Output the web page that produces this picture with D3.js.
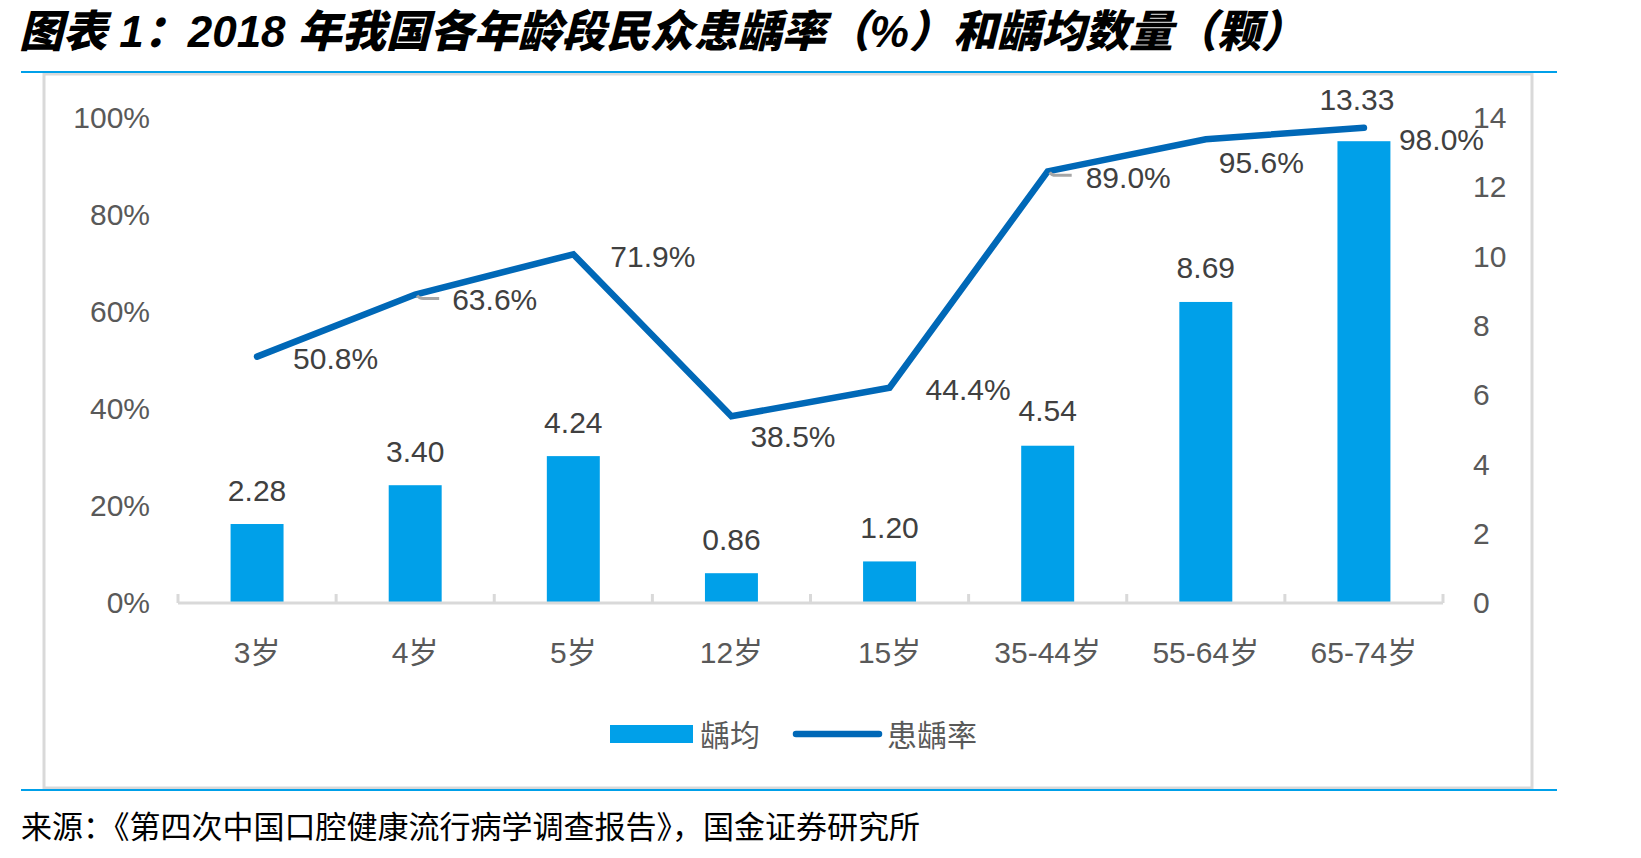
<!DOCTYPE html>
<html>
<head>
<meta charset="utf-8">
<script src="https://cdn.jsdelivr.net/npm/d3@7"></script>
<style>
  body { margin: 0; background: #fff; }
  text { font-family: "Liberation Sans", "Noto Sans CJK SC", sans-serif; }
</style>
</head>
<body>
<div id="chart"></div>
<script>
// data
const ages = ["3岁", "4岁", "5岁", "12岁", "15岁", "35-44岁", "55-64岁", "65-74岁"];
const cariesCount = [2.28, 3.40, 4.24, 0.86, 1.20, 4.54, 8.69, 13.33];   // 龋均 (颗)
const cariesRate = [0.508, 0.636, 0.719, 0.385, 0.444, 0.890, 0.956, 0.980]; // 患龋率
const leftTicks = [0, 0.2, 0.4, 0.6, 0.8, 1.0];
const rightTicks = [0, 2, 4, 6, 8, 10, 12, 14];

// label nudges like the ones dragged by hand in the original
const rateLabelShift = [[36, 2, 0], [37, 5, 1], [37, 2, 0], [19, 20, 0], [36, 2, 0], [38, 6, 1], [13, 23, 0], [35, 12, 0]];
const countLabelLift = [34, 34, 34, 34, 34, 35, 34, 42];

const W = 1641, H = 858;
const barColor = "#00a0e9", lineColor = "#0068b7";
const axisText = "#595959", labelText = "#404040";

const svg = d3.select("#chart").append("svg")
    .attr("width", W).attr("height", H);

// title
svg.append("text")
    .attr("x", 19).attr("y", 31).attr("dy", "0.36em")
    .style("font-size", "44px").style("font-weight", "900").style("font-style", "italic")
    .style("fill", "#000")
    .text("图表 1：2018 年我国各年龄段民众患龋率（%）和龋均数量（颗）");

// frame + blue rules
svg.append("rect")
    .attr("x", 44).attr("y", 74).attr("width", 1488).attr("height", 714)
    .style("fill", "none").style("stroke", "#d9d9d9").style("stroke-width", 3);
[72, 790].forEach(y => {
    svg.append("line").attr("x1", 21).attr("x2", 1557).attr("y1", y).attr("y2", y)
        .style("stroke", barColor).style("stroke-width", 2);
});

// scales
let p = 0.665;
let x = d3.scaleBand().domain(ages).range([178, 1443]).paddingInner(p).paddingOuter(p / 2);
let yL = d3.scaleLinear().domain([0, 1]).range([603, 118]);
let yR = d3.scaleLinear().domain([0, 14]).range([603, 118]);

// axes
let gl = svg.append("g").attr("transform", "translate(150,0)")
    .call(d3.axisLeft(yL).tickValues(leftTicks).tickFormat(d3.format(".0%")).tickSize(0).tickPadding(0));
let gr = svg.append("g").attr("transform", "translate(1473,0)")
    .call(d3.axisRight(yR).tickValues(rightTicks).tickFormat(d3.format("d")).tickSize(0).tickPadding(0));
[gl, gr].forEach(g => {
    g.select(".domain").remove();
    g.selectAll("text").style("font-size", "30px").style("fill", axisText)
        .style("font-family", "'Liberation Sans', sans-serif");
});

// bars
svg.selectAll(".bar")
    .data(cariesCount).enter()
    .append("rect")
    .attr("class", "bar")
    .attr("x", (d, i) => x(ages[i]))
    .attr("width", x.bandwidth())
    .attr("y", d => yR(d))
    .attr("height", d => yR(0) - yR(d))
    .style("fill", barColor);

// category axis
let gx = svg.append("g").attr("transform", "translate(0,603)");
gx.append("line").attr("x1", x.range()[0]).attr("x2", x.range()[1])
    .style("stroke", "#d9d9d9").style("stroke-width", 3);
d3.range(ages.length + 1).forEach(i => {
    let tx = x.range()[0] + i * x.step();
    gx.append("line").attr("x1", tx).attr("x2", tx).attr("y1", 0).attr("y2", -9)
        .style("stroke", "#d9d9d9").style("stroke-width", 3);
});
gx.selectAll(".cat")
    .data(ages).enter()
    .append("text")
    .attr("x", d => x(d) + x.bandwidth() / 2)
    .attr("y", 49).attr("dy", "0.36em")
    .style("text-anchor", "middle").style("font-size", "30px").style("fill", axisText)
    .text(d => d);

// bar labels
svg.selectAll(".countLabel")
    .data(cariesCount).enter()
    .append("text")
    .attr("x", (d, i) => x(ages[i]) + x.bandwidth() / 2 - (i === ages.length - 1 ? 7 : 0))
    .attr("y", (d, i) => yR(d) - countLabelLift[i])
    .attr("dy", "0.35em")
    .style("text-anchor", "middle").style("font-size", "30px").style("fill", labelText)
    .text(d => d3.format(".2f")(d));

// rate line
let cx = i => x(ages[i]) + x.bandwidth() / 2;
let line = d3.line().x((d, i) => cx(i)).y(d => yL(d));
svg.append("path")
    .datum(cariesRate)
    .attr("d", line)
    .style("fill", "none").style("stroke", lineColor).style("stroke-width", 6.5)
    .style("stroke-linecap", "round");

// leader lines
cariesRate.forEach((d, i) => {
    if (!rateLabelShift[i][2]) return;
    svg.append("path")
        .attr("d", `M${cx(i) + 2},${yL(d) + 1} Q${cx(i) + 4},${yL(d) + 4} ${cx(i) + 8},${yL(d) + 4} L${cx(i) + 24},${yL(d) + 4}`)
        .style("fill", "none").style("stroke", "#a6a6a6").style("stroke-width", 3);
});

svg.selectAll(".rateLabel")
    .data(cariesRate).enter()
    .append("text")
    .attr("x", (d, i) => cx(i) + rateLabelShift[i][0])
    .attr("y", (d, i) => yL(d) + rateLabelShift[i][1])
    .attr("dy", "0.35em")
    .style("font-size", "30px").style("fill", labelText)
    .text(d => d3.format(".1%")(d));

// legend
let lg = svg.append("g");
lg.append("rect").attr("x", 610).attr("y", 725).attr("width", 83).attr("height", 18)
    .style("fill", barColor);
lg.append("text").attr("x", 700).attr("y", 735).attr("dy", "0.36em")
    .style("font-size", "30px").style("fill", axisText).text("龋均");
lg.append("line").attr("x1", 796).attr("x2", 879).attr("y1", 734).attr("y2", 734)
    .style("stroke", lineColor).style("stroke-width", 6.5).style("stroke-linecap", "round");
lg.append("text").attr("x", 887).attr("y", 735).attr("dy", "0.36em")
    .style("font-size", "30px").style("fill", axisText).text("患龋率");

// source
svg.append("text")
    .attr("x", 21).attr("y", 827).attr("dy", "0.36em")
    .style("font-size", "31px").style("fill", "#000")
    .text("来源：《第四次中国口腔健康流行病学调查报告》，国金证券研究所");
</script>
</body>
</html>
